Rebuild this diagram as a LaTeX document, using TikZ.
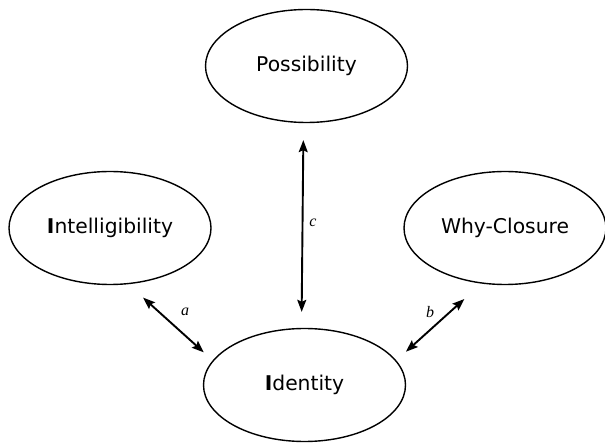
\documentclass[tikz,border=0pt]{standalone}
\usepackage{fontspec}
\setmainfont{DejaVu Sans}
\newfontfamily\labelfont{Liberation Serif}
\usetikzlibrary{arrows.meta,shapes.geometric}
\begin{document}
\begin{tikzpicture}[x=1pt,y=-1pt,
  concept/.style={draw,line width=1.4pt,ellipse,minimum width=202pt,minimum height=113pt,inner sep=0pt,font=\fontsize{20.3}{23}\selectfont},
  link/.style={line width=1.9pt,{Stealth[length=12pt,width=9pt,inset=2pt]}-{Stealth[length=12pt,width=9pt,inset=2pt]}},
  lab/.style={font=\labelfont\itshape\fontsize{16}{19}\selectfont,inner sep=0pt}]
\useasboundingbox (0,0) rectangle (605,443);
\node[concept] (poss) at (306.5,66) {Possibility};
\node[concept] (intel) at (110,228) {\textbf{I}ntelligibility};
\node[concept] (why) at (505,228) {Why-Closure};
\node[concept] (iden) at (304.5,385) {\textbf{I}dentity};
\draw[link,shorten <=17pt,shorten >=16pt] (poss.-93) -- (iden.93);
\draw[link,shorten <=20pt,shorten >=12pt] (intel.-72) -- (iden.165);
\draw[link,shorten <=23pt,shorten >=13pt] (why.-113) -- (iden.15);
\node[lab] (la) at (185,312) {a};
\node[lab] (lb) at (430,312) {b};
\node[lab] (lc) at (313,223) {c};
\end{tikzpicture}
\end{document}
